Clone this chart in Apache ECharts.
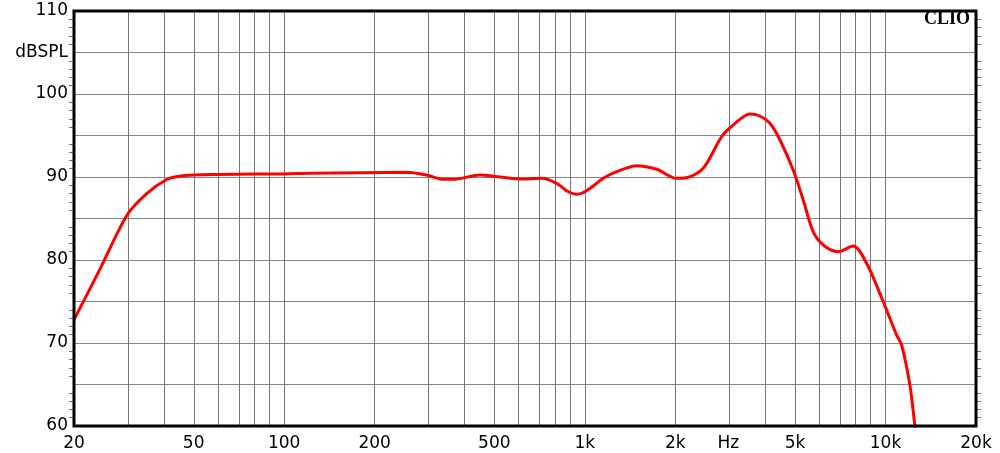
<!DOCTYPE html>
<html>
<head>
<meta charset="utf-8">
<script src="https://cdn.jsdelivr.net/npm/echarts@6/dist/echarts.min.js"></script>
<style>html,body{margin:0;padding:0;background:#fff}#c{width:1000px;height:453px}</style>
</head>
<body>
<div id="c"></div>
<script>
// Frequency response (Hz, dBSPL)
const freqs = [20, 24.4, 30, 34.9, 40.7, 45, 50, 60, 80, 97, 122, 179, 256, 300, 338, 375, 448, 484, 608, 719, 806, 870, 939, 1014, 1152, 1276, 1487, 1733, 2020, 2177, 2476, 2852, 3116, 3540, 3822, 4128, 4457, 4932, 5326, 5748, 6208, 6960, 7808, 8654, 9828, 10890, 11314, 12054, 12524, 12800];
const spl = [72.8, 78.9, 85.4, 88.0, 89.7, 90.1, 90.24, 90.3, 90.35, 90.36, 90.45, 90.52, 90.57, 90.2, 89.72, 89.76, 90.24, 90.16, 89.76, 89.84, 89.24, 88.35, 87.92, 88.35, 89.84, 90.64, 91.36, 90.93, 89.84, 89.9, 91.05, 94.86, 96.27, 97.59, 97.35, 96.47, 94.46, 90.84, 87.23, 83.41, 81.81, 81.0, 81.69, 79.6, 74.98, 70.96, 69.76, 64.94, 60.12, 58];
// Vertical grid lines (Hz)
const gridFreqs = [30,40,50,60,70,80,90,100,200,300,400,500,600,700,800,900,1000,2000,3000,4000,5000,6000,7000,8000,9000,10000];
// X tick labels
const tickFreqs = [20, 50, 100, 200, 500, 1000, 2000, 3000, 5000, 10000, 20000];
const tickLabels = ['20', '50', '100', '200', '500', '1k', '2k', 'Hz', '5k', '10k', '20k'];
// Y axis
const yMin = 60, yMax = 110;

const L = Math.log10;
const font = 'DejaVu Sans';
const chart = echarts.init(document.getElementById('c'), null, {renderer: 'canvas'});
chart.setOption({
  animation: false,
  backgroundColor: '#fff',
  grid: {left: 74, right: 24, top: 11, bottom: 27, show: true, borderColor: '#000', borderWidth: 3, backgroundColor: 'transparent', z: 10},
  xAxis: {
    type: 'value', min: L(20), max: L(20000),
    axisLine: {show: false}, axisTick: {show: false}, splitLine: {show: false},
    axisLabel: {
      customValues: tickFreqs.map(L), margin: 9,
      color: '#000', fontFamily: font, fontSize: 17,
      formatter: v => { let best = 0; tickFreqs.forEach((f, i) => { if (Math.abs(L(f) - v) < Math.abs(L(tickFreqs[best]) - v)) best = i; }); return tickLabels[best]; }
    }
  },
  yAxis: [{
    type: 'value', min: yMin, max: yMax, interval: 5,
    axisLine: {show: false}, axisTick: {show: false},
    minorTick: {show: true, splitNumber: 5, length: 5, lineStyle: {color: '#777', width: 1}},
    splitLine: {show: true, lineStyle: {color: '#858585', width: 1}},
    axisLabel: {
      color: '#000', fontFamily: font, fontSize: 17, margin: 6,
      formatter: v => v % 10 === 0 ? String(v) : (v === 105 ? 'dBSPL' : '')
    }
  }, {
    type: 'value', min: yMin, max: yMax, interval: 5, position: 'right',
    axisLine: {show: false}, axisTick: {show: false}, axisLabel: {show: false}, splitLine: {show: false},
    minorTick: {show: true, splitNumber: 5, length: 5, lineStyle: {color: '#777', width: 1}}
  }],
  graphic: [{
    type: 'text', right: 30, top: 10,
    style: {text: 'CLIO', font: 'bold 18px "Liberation Serif"', fill: '#000'}
  }],
  series: [{
    type: 'line', data: [], silent: true, z: 1,
    markLine: {
      silent: true, symbol: 'none', animation: false,
      label: {show: false},
      lineStyle: {color: '#777', width: 1, type: 'solid'},
      data: gridFreqs.map(f => ({xAxis: L(f)}))
    }
  }, {
    type: 'line', z: 5, clip: true,
    data: freqs.map((f, i) => [L(f), spl[i]]),
    showSymbol: false, smooth: 0.3,
    lineStyle: {color: '#ff0000', width: 3}
  }]
});
</script>
</body>
</html>
